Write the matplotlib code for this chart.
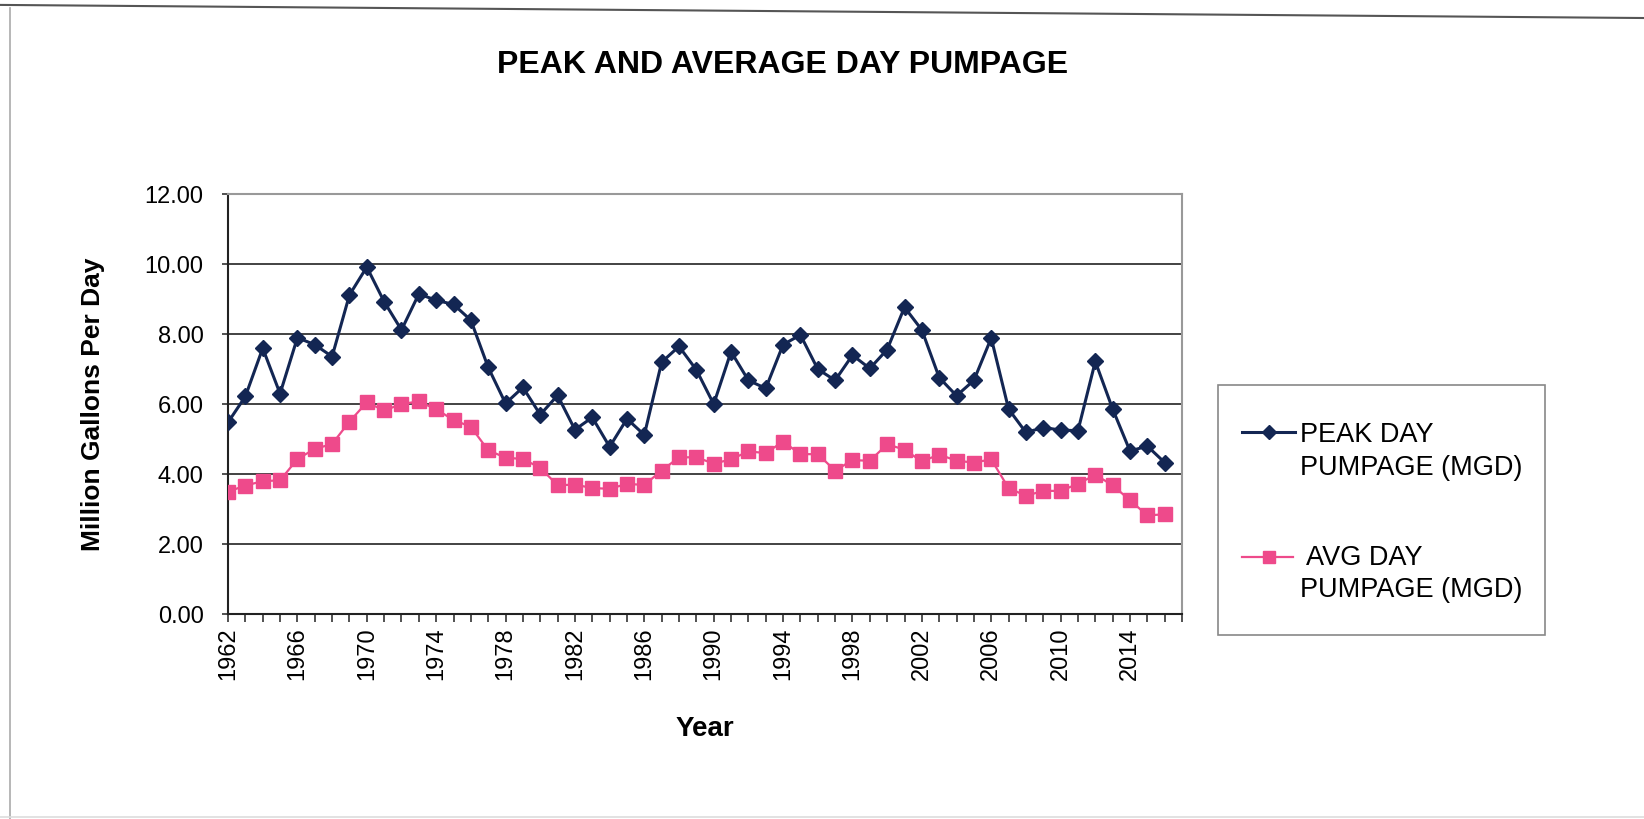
import numpy as np
import matplotlib
matplotlib.use("Agg")
import matplotlib.pyplot as plt
from matplotlib.lines import Line2D
from matplotlib.patches import Rectangle

plt.rcParams['font.family'] = ['Liberation Sans', 'DejaVu Sans']

# Data
years = list(range(1962, 2017))
peak_day = [5.48, 6.22, 7.60, 6.30, 7.90, 7.70, 7.36, 9.12, 9.92, 8.93,
            8.12, 9.15, 8.97, 8.85, 8.40, 7.05, 6.02, 6.48, 5.70, 6.25,
            5.27, 5.62, 4.78, 5.58, 5.12, 7.20, 7.65, 6.98, 6.00, 7.50,
            6.68, 6.45, 7.70, 7.98, 7.00, 6.68, 7.40, 7.02, 7.56, 8.77,
            8.12, 6.76, 6.24, 6.68, 7.89, 5.86, 5.19, 5.33, 5.26, 5.24,
            7.22, 5.86, 4.66, 4.80, 4.33]
avg_day = [3.50, 3.67, 3.80, 3.82, 4.43, 4.72, 4.86, 5.50, 6.05, 5.82,
           6.00, 6.08, 5.85, 5.55, 5.35, 4.68, 4.47, 4.43, 4.18, 3.68,
           3.70, 3.60, 3.58, 3.72, 3.69, 4.10, 4.48, 4.48, 4.30, 4.42,
           4.65, 4.60, 4.93, 4.57, 4.57, 4.10, 4.40, 4.38, 4.85, 4.70,
           4.36, 4.56, 4.38, 4.33, 4.42, 3.60, 3.38, 3.52, 3.52, 3.72,
           3.98, 3.68, 3.25, 2.82, 2.85]
yticks = [0, 2, 4, 6, 8, 10, 12]
xlabels = list(range(1962, 2017, 4))
peak_label = ['PEAK DAY', 'PUMPAGE (MGD)']
avg_label = [' AVG DAY', 'PUMPAGE (MGD)']

navy = '#132653'
pink = '#ee4a8b'

fig = plt.figure(figsize=(16.44, 8.19), dpi=100)
ax = fig.add_axes([0.1387, 0.2503, 0.5803, 0.5125])

ax.plot(years, peak_day, color=navy, lw=2.2, marker='D', ms=8, zorder=3)
ax.plot(years, avg_day, color=pink, lw=1.6, marker='s', ms=10, zorder=3)

ax.set_xlim(1962, 2017)
ax.set_ylim(0, 12)
ax.set_yticks(yticks)
ax.set_yticklabels([f'{v:.2f}' for v in yticks], fontsize=17)
ax.set_xticks(xlabels)
ax.set_xticklabels([str(y) for y in xlabels], rotation=90, fontsize=17)
ax.set_xticks(np.arange(1962, 2018), minor=True)
ax.tick_params(axis='x', which='both', direction='out', length=6, width=1.2, color='#333333')
ax.tick_params(axis='y', direction='out', length=4.5, width=1.2, color='#333333', pad=13)

ax.grid(axis='y', color='#222222', lw=1.2, zorder=1)
ax.set_axisbelow(True)
for side in ['top', 'right']:
    ax.spines[side].set_color('#999999')
    ax.spines[side].set_linewidth(1.5)
for side in ['left', 'bottom']:
    ax.spines[side].set_color('#222222')
    ax.spines[side].set_linewidth(1.5)

ax.set_ylabel('Million Gallons Per Day', fontsize=19, fontweight='bold')
ax.yaxis.set_label_coords(-0.129, 0.5)
ax.set_xlabel('Year', fontsize=20, fontweight='bold')
ax.xaxis.set_label_coords(0.5, -0.244)

fig.text(0.476, 0.921, 'PEAK AND AVERAGE DAY PUMPAGE', fontsize=23,
         fontweight='bold', ha='center', va='center')

# legend box, drawn by hand so the marker sits on the first text line
fig.add_artist(Rectangle((0.7409, 0.2247), 0.1989, 0.3053, transform=fig.transFigure,
                         facecolor='white', edgecolor='#888888', lw=1.2))
fig.add_artist(Line2D([0.7555, 0.7716, 0.7877], [0.4725, 0.4725, 0.4725], color=navy,
                      lw=2.2, marker='D', ms=7, markevery=[1]))
fig.add_artist(Line2D([0.7555, 0.7716, 0.7865], [0.3199, 0.3199, 0.3199], color=pink,
                      lw=1.6, marker='s', ms=8, markevery=[1]))
for txt, yb in zip(peak_label + avg_label, [0.4609, 0.4206, 0.3107, 0.2705]):
    fig.text(0.7905, yb, txt, fontsize=19.5, ha='left', va='baseline')

# page frame from the scanned sheet
fig.add_artist(Line2D([0.0, 1.0], [0.994, 0.978], color='#555555', lw=1.5))
fig.add_artist(Line2D([0.006, 0.006], [0.0, 0.99], color='#aaaaaa', lw=1.2))
fig.add_artist(Line2D([0.0, 1.0], [0.003, 0.003], color='#dddddd', lw=1.2))

fig.savefig('out.png', dpi=100)
